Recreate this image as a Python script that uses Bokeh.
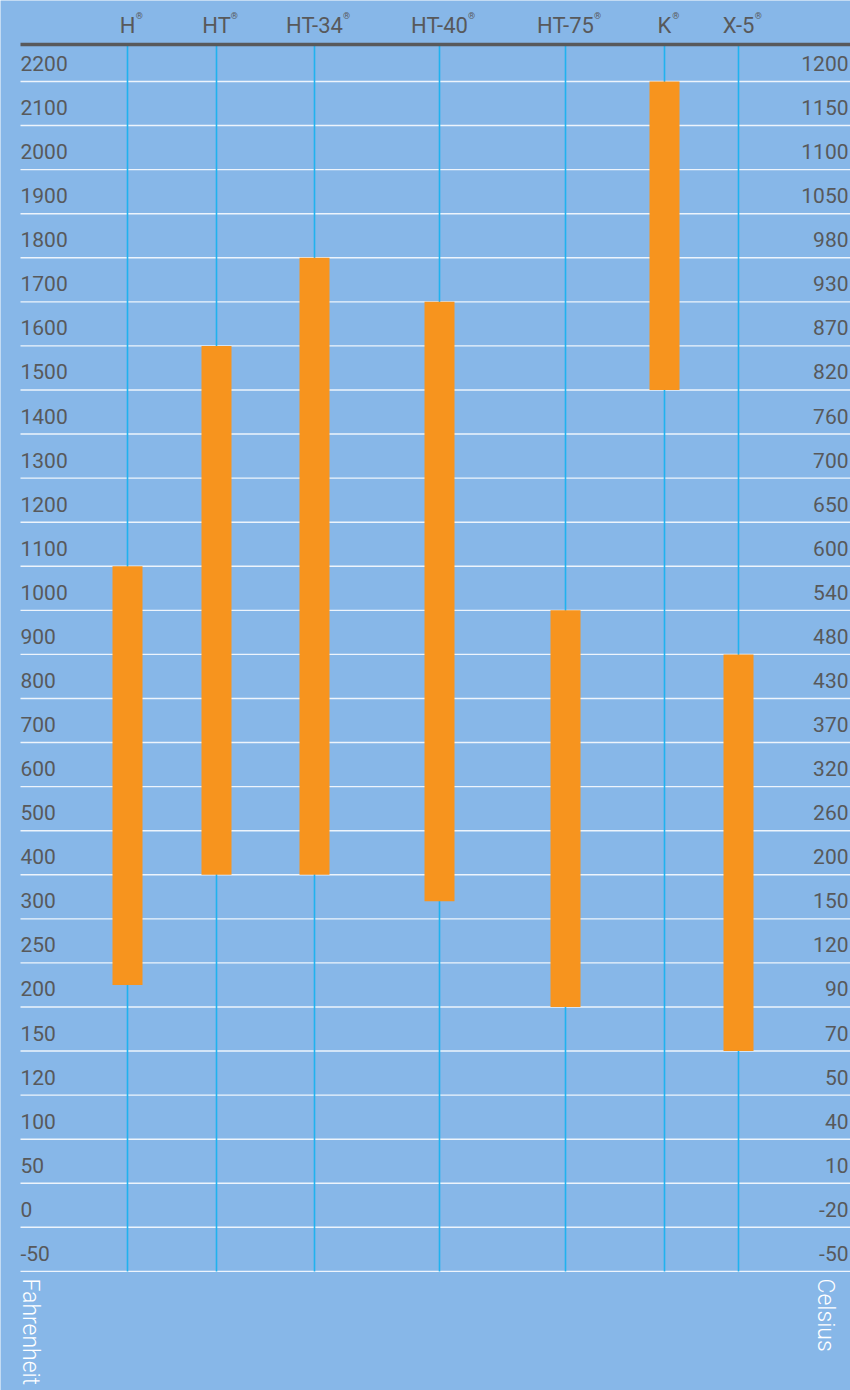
import numpy as np
from bokeh.plotting import figure
from bokeh.models import Range1d, ColumnDataSource
from bokeh.core.properties import value
from bokeh.embed import file_html
from bokeh.resources import INLINE

# ---------------- data ----------------
fahrenheit_ticks = [2200, 2100, 2000, 1900, 1800, 1700, 1600, 1500, 1400, 1300,
                    1200, 1100, 1000, 900, 800, 700, 600, 500, 400, 300,
                    250, 200, 150, 120, 100, 50, 0, -50]
celsius_ticks = [1200, 1150, 1100, 1050, 980, 930, 870, 820, 760, 700,
                 650, 600, 540, 480, 430, 370, 320, 260, 200, 150,
                 120, 90, 70, 50, 40, 10, -20, -50]
products = ["H", "HT", "HT-34", "HT-40", "HT-75", "K", "X-5"]
range_low_f = [225, 400, 400, 340, 200, 1500, 150]
range_high_f = [1100, 1600, 1800, 1700, 1000, 2200, 900]

# ---------------- layout ----------------
column_x = [127, 216, 314, 439, 565, 664, 738]   # column centres (px units of x range)
ROW = 44.07          # px per row
ROW0 = 81.0          # y of the first row line
BG = "#87b7e8"
TEXT = "#58595b"
ORANGE = "#f7941e"
CYAN = "#1fb2ef"

def r_of_page(py):
    return (py - ROW0) / ROW

n = len(fahrenheit_ticks)
idx = np.arange(n)

def row_of(v):
    return np.interp(v, fahrenheit_ticks[::-1], idx[::-1])

W, H = 850, 1390
p = figure(width=W, height=H, output_backend="svg", toolbar_location=None,
           x_axis_location=None, y_axis_location=None,
           x_range=Range1d(0, 850),
           y_range=Range1d(r_of_page(H), r_of_page(0)),
           min_border_left=0, min_border_right=0, min_border_top=0, min_border_bottom=0)
p.background_fill_color = BG
p.border_fill_color = BG
p.outline_line_color = None
p.xgrid.visible = False
p.ygrid.visible = False

# white row lines
p.segment(x0=[20] * n, x1=[850] * n, y0=idx, y1=idx,
          line_color="white", line_width=1.4, line_alpha=0.85)

# vertical cyan lines
top_r = r_of_page(44)
p.segment(x0=column_x, x1=column_x, y0=[top_r] * len(products), y1=[n - 1] * len(products),
          line_color=CYAN, line_width=1.6)

# dark top rule
p.segment(x0=[20], x1=[850], y0=[top_r], y1=[top_r], line_color=TEXT, line_width=3.5)

# range bars
src = ColumnDataSource(dict(x=column_x, name=products,
                            top=row_of(range_high_f), bottom=row_of(range_low_f)))
p.vbar(x="x", width=30, top="top", bottom="bottom", source=src,
       fill_color=ORANGE, line_color=None)

# left / right tick labels
lab_y = idx - 18.0 / ROW
p.text(x=[20] * n, y=lab_y, text=[str(v) for v in fahrenheit_ticks],
       text_align="left", text_baseline="alphabetic",
       text_font=value("Roboto"), text_font_size="21px", text_color=TEXT)
p.text(x=[848] * n, y=lab_y, text=[str(v) for v in celsius_ticks],
       text_align="right", text_baseline="alphabetic",
       text_font=value("Roboto"), text_font_size="21px", text_color=TEXT)

# product labels with superscript ®
adv = {"H": 0.65, "T": 0.56, "-": 0.28, "K": 0.62, "X": 0.6}
def text_w(s, size):
    return sum(adv.get(c, 0.51) for c in s) * size

p.text(x=column_x, y=[r_of_page(25)] * len(products), text=products,
       text_align="center", text_baseline="alphabetic",
       text_font=value("Roboto"), text_font_size="22px", text_color=TEXT)
p.text(x=column_x, y=[r_of_page(10)] * len(products), text=["®"] * len(products),
       x_offset=[text_w(s, 22) / 2 + 1 for s in products],
       text_align="left", text_baseline="top",
       text_font=value("Roboto"), text_font_size="9px", text_color=TEXT)

# rotated unit titles
p.text(x=[30], y=[r_of_page(1278)], text=["Fahrenheit"], angle=-np.pi / 2,
       text_align="left", text_baseline="alphabetic",
       text_font=value("Roboto Light, Roboto"), text_font_size="23px", text_color="white")
p.text(x=[825], y=[r_of_page(1278)], text=["Celsius"], angle=-np.pi / 2,
       text_align="left", text_baseline="alphabetic",
       text_font=value("Roboto Light, Roboto"), text_font_size="23px", text_color="white")

open("out.html", "w").write(file_html(p, INLINE))
